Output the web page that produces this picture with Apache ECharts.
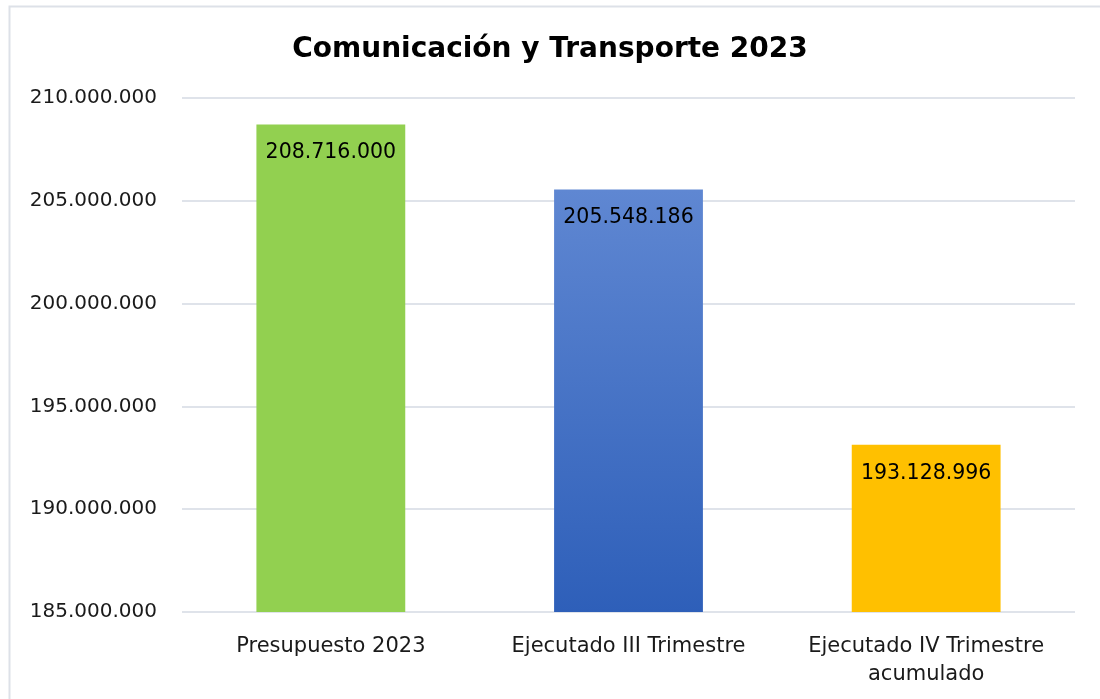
<!DOCTYPE html>
<html lang="es">
<head>
    <meta charset="UTF-8">
    <title>Comunicación y Transporte 2023</title>
    <script src="https://cdn.jsdelivr.net/npm/echarts@6.0.0/dist/echarts.min.js"></script>
    <style>
        html, body { margin: 0; padding: 0; background: #fff; overflow: hidden; }
        #chart { width: 1100px; height: 699px; }
    </style>
</head>
<body>
    <div id="chart"></div>
    <script>
        const categories = ['Presupuesto 2023', 'Ejecutado III Trimestre', 'Ejecutado IV Trimestre\nacumulado'];
        const values = [208716000, 205548186, 193128996];
        const axisMin = 185000000;
        const axisMax = 210000000;
        const axisStep = 5000000;

        const fontFamily = "'DejaVu Sans', Tahoma, sans-serif";
        const fmt = v => String(Math.round(v)).replace(/\B(?=(\d{3})+(?!\d))/g, '.');

        const barColors = [
            '#92d050',
            new echarts.graphic.LinearGradient(0, 0, 0, 1, [
                { offset: 0, color: '#5f87d2' },
                { offset: 1, color: '#2e5fb9' }
            ]),
            '#ffc000'
        ];

        const chart = echarts.init(document.getElementById('chart'));
        chart.setOption({
            animation: false,
            // chart frame (only left and top edges are visible)
            graphic: [{
                type: 'polyline',
                shape: { points: [[9.5, 699], [9.5, 6.5], [1100, 6.5]] },
                style: { fill: null, stroke: '#dde1e8', lineWidth: 2 },
                silent: true
            }],
            title: {
                text: 'Comunicación y Transporte 2023',
                left: 'center',
                top: 31,
                textStyle: { fontFamily: fontFamily, fontSize: 28, fontWeight: 'bold', color: '#000' }
            },
            grid: { left: 182, right: 25, top: 98, bottom: 87 },
            xAxis: {
                type: 'category',
                data: categories,
                axisLine: { show: false },
                axisTick: { show: false },
                axisLabel: {
                    interval: 0,
                    margin: 21,
                    fontFamily: fontFamily,
                    fontSize: 21,
                    lineHeight: 28,
                    color: '#1a1a1a'
                }
            },
            yAxis: {
                type: 'value',
                min: axisMin,
                max: axisMax,
                interval: axisStep,
                axisLine: { show: false },
                axisTick: { show: false },
                splitLine: { lineStyle: { color: '#dfe3ea', width: 2 } },
                axisLabel: {
                    margin: 25,
                    fontFamily: fontFamily,
                    fontSize: 20,
                    color: '#1a1a1a',
                    formatter: v => fmt(v)
                }
            },
            series: [{
                type: 'bar',
                barWidth: '50%',
                data: values.map((v, i) => ({ value: v, itemStyle: { color: barColors[i] } })),
                label: {
                    show: true,
                    position: 'insideTop',
                    distance: 18,
                    fontFamily: fontFamily,
                    fontSize: 20.5,
                    color: '#000',
                    formatter: p => fmt(p.value)
                }
            }]
        });
    </script>
</body>
</html>
